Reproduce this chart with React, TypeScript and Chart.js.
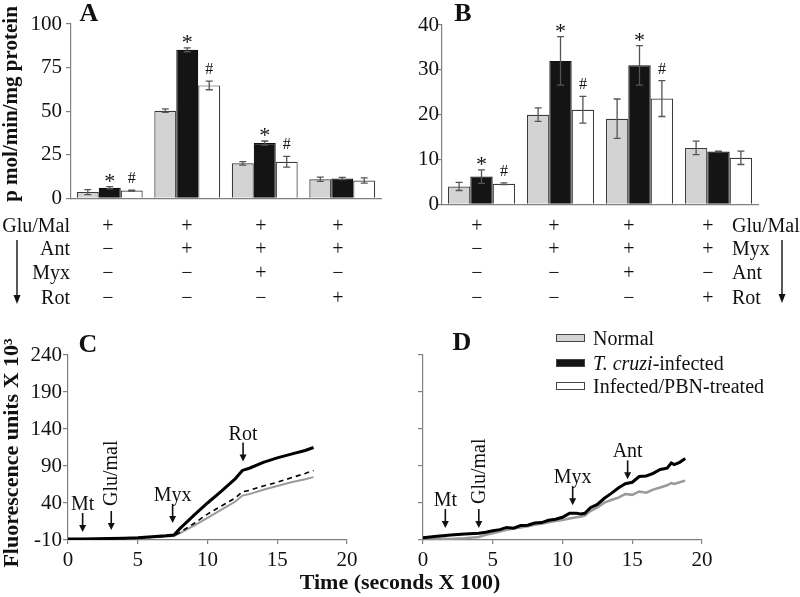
import React, { useEffect, useRef } from 'react';
import { Chart, registerables } from 'chart.js';

Chart.register(...registerables);

const SERIF = '"Liberation Serif", "Times New Roman", serif';

// ---------- Panels A & B (bar charts) ----------
const groupLabels = ['1', '2', '3', '4'];
const seriesNames = ['Normal', 'T. cruzi-infected', 'Infected/PBN-treated'];

const aNormal = [3.6, 50.3, 20.1, 11.0];
const aNormalErr = [1.4, 1.0, 1.0, 1.2];
const aInfected = [6.1, 85.2, 31.7, 11.4];
const aInfectedErr = [0.6, 1.1, 1.2, 0.6];
const aPbn = [4.5, 64.8, 21.0, 10.3];
const aPbnErr = [0.3, 2.5, 3.1, 1.5];

const bNormal = [4.0, 20.0, 19.1, 12.6];
const bNormalErr = [0.9, 1.5, 4.4, 1.5];
const bInfected = [6.2, 32.0, 31.0, 11.8];
const bInfectedErr = [1.5, 5.4, 4.4, 0.1];
const bPbn = [4.6, 21.1, 23.6, 10.4];
const bPbnErr = [0.2, 3.0, 4.0, 1.5];

const infectedSig = ['*', '*', '*', ''];
const pbnSig = ['#', '#', '#', ''];

const aMax = 100;
const aStep = 25;
const bMax = 40;
const bStep = 10;

// treatment table
const rowsA = ['Glu/Mal', 'Ant', 'Myx', 'Rot'];
const rowsB = ['Glu/Mal', 'Myx', 'Ant', 'Rot'];
const signsA = [
  ['+', '+', '+', '+'],
  ['−', '+', '+', '+'],
  ['−', '−', '+', '−'],
  ['−', '−', '−', '+'],
];
const signsB = [
  ['+', '+', '+', '+'],
  ['−', '+', '+', '+'],
  ['−', '−', '+', '−'],
  ['−', '−', '−', '+'],
];

// ---------- Panels C & D (line charts) ----------
const cTime = [0, 1, 2, 3, 4, 5, 6, 7, 7.6, 8, 9, 10, 11, 12, 12.5, 13, 14, 15, 16, 17, 17.6];
const cInfected = [-8.6, -8.6, -8.4, -8.0, -7.5, -6.8, -5.6, -4.4, -3.2, 5, 23, 40, 56, 73, 84, 87, 95, 101, 106, 111, 115];
const cPbn = [-8.6, -8.6, -8.5, -8.2, -7.8, -7.2, -6.2, -5.0, -4.0, 0, 12, 25, 36, 47, 55, 57, 63, 68, 74, 80, 84];
const cNormal = [-8.8, -8.8, -8.6, -8.4, -8.0, -7.4, -6.5, -5.4, -4.5, -1, 9, 20, 31, 42, 50, 52, 58, 63, 68, 72, 75];

const dTime = [0, 1, 2, 3, 4, 4.5, 5, 5.5, 6, 6.5, 7, 7.5, 8, 8.5, 9, 9.5, 10, 10.5, 11, 11.3, 11.6, 12, 12.5, 13, 13.5, 14, 14.5, 15, 15.5, 16, 16.5, 17, 17.5, 17.8, 18, 18.4, 18.8];
const dInfected = [-6.8, -5, -3.1, -2, -0.8, 0.5, 2.4, 4, 7, 6, 9.7, 10, 13, 13.5, 16.6, 18, 20.7, 26, 26, 25.3, 26, 33.6, 38, 46.4, 53, 60.2, 66, 68, 75.8, 76.5, 80, 85.4, 87, 94, 91.8, 95, 100];
const dNormal = [-7, -8, -8.5, -7.5, -6, -3, -0.8, 1.5, 3.8, 5.5, 7, 8.5, 10.6, 12, 13.9, 15.5, 17, 19, 20.7, 21.5, 23, 29, 34, 40.5, 44, 47.3, 52, 51, 55.6, 54, 58, 61, 64, 67, 65.7, 68, 70.3];

const fluoMin = -10;
const fluoMax = 240;
const fluoStep = 50;
const timeMin = 0;
const timeMax = 20;
const timeStep = 5;

// arrow annotations: label, time, tip value
const cNotes = [
  { label: 'Mt', x: 1.05, tip: 0.8, rotate: false },
  { label: 'Glu/mal', x: 3.1, tip: 3.5, rotate: true },
  { label: 'Myx', x: 7.5, tip: 13, rotate: false },
  { label: 'Rot', x: 12.55, tip: 96, rotate: false },
];
const dNotes = [
  { label: 'Mt', x: 1.6, tip: 6.2, rotate: false },
  { label: 'Glu/mal', x: 4.0, tip: 6.2, rotate: true },
  { label: 'Myx', x: 10.73, tip: 37, rotate: false },
  { label: 'Ant', x: 14.67, tip: 72, rotate: false },
];

// ---------- styles ----------
const barFills = ['#d3d3d3', '#141414', '#ffffff'];
const AXIS = '#808080';

const errorBarPlugin = {
  id: 'errorBars',
  afterDatasetsDraw(chart: any) {
    const ctx = chart.ctx;
    const yScale = chart.scales.y;
    chart.data.datasets.forEach((ds: any, i: number) => {
      const meta = chart.getDatasetMeta(i);
      meta.data.forEach((bar: any, j: number) => {
        const v = ds.data[j];
        const e = ds.errors[j];
        const yTop = yScale.getPixelForValue(v + e);
        const yBot = yScale.getPixelForValue(v - e);
        const x = bar.x;
        ctx.save();
        ctx.strokeStyle = '#555';
        ctx.lineWidth = 1.3;
        ctx.beginPath();
        ctx.moveTo(x, yTop);
        ctx.lineTo(x, yBot);
        ctx.moveTo(x - 3.5, yTop);
        ctx.lineTo(x + 3.5, yTop);
        ctx.moveTo(x - 3.5, yBot);
        ctx.lineTo(x + 3.5, yBot);
        ctx.stroke();
        const s = ds.sig ? ds.sig[j] : '';
        if (s) {
          ctx.fillStyle = '#111';
          ctx.textAlign = 'center';
          ctx.textBaseline = 'alphabetic';
          if (s === '*') {
            ctx.font = `22px ${SERIF}`;
            ctx.fillText(s, x, yTop + 1);
          } else {
            ctx.font = `16px ${SERIF}`;
            ctx.fillText(s, x, yTop - 7);
          }
        }
        ctx.restore();
      });
    });
  },
};

const arrowPlugin = {
  id: 'arrowNotes',
  afterDatasetsDraw(chart: any, _args: any, opts: any) {
    const ctx = chart.ctx;
    const xs = chart.scales.x;
    const ys = chart.scales.y;
    (opts.items || []).forEach((it: any) => {
      const px = xs.getPixelForValue(it.x);
      const tip = ys.getPixelForValue(it.tip);
      const top = tip - 19;
      ctx.save();
      ctx.strokeStyle = '#111';
      ctx.fillStyle = '#111';
      ctx.lineWidth = 1.6;
      ctx.beginPath();
      ctx.moveTo(px, top);
      ctx.lineTo(px, tip - 6);
      ctx.stroke();
      ctx.beginPath();
      ctx.moveTo(px - 3.5, tip - 7);
      ctx.lineTo(px + 3.5, tip - 7);
      ctx.lineTo(px, tip);
      ctx.closePath();
      ctx.fill();
      ctx.font = `20px ${SERIF}`;
      if (it.rotate) {
        ctx.translate(px + 1, top - 5);
        ctx.rotate(-Math.PI / 2);
        ctx.textAlign = 'left';
        ctx.textBaseline = 'middle';
        ctx.fillText(it.label, 0, 0);
      } else {
        ctx.textAlign = 'center';
        ctx.textBaseline = 'alphabetic';
        ctx.fillText(it.label, px, top - 3);
      }
      ctx.restore();
    });
  },
};

function barConfig(
  values: number[][],
  errors: number[][],
  max: number,
  step: number,
  yWidth: number,
  padTop: number,
  padRight: number,
  tickPad: number
): any {
  const sigs = [null, infectedSig, pbnSig];
  return {
    type: 'bar',
    data: {
      labels: groupLabels,
      datasets: values.map((vals, i) => ({
        label: seriesNames[i],
        data: vals,
        errors: errors[i],
        sig: sigs[i],
        backgroundColor: barFills[i],
        borderColor: i === 1 ? '#111' : '#3a3a3a',
        borderWidth: 1.2,
        barPercentage: 1,
        categoryPercentage: 0.85,
      })),
    },
    options: {
      responsive: false,
      animation: false,
      layout: { padding: { top: padTop, right: padRight, bottom: 7, left: 0 } },
      plugins: { legend: { display: false }, tooltip: { enabled: false } },
      scales: {
        x: {
          type: 'category',
          grid: { display: false },
          border: { display: true, color: AXIS, width: 1.2 },
          ticks: { display: false },
          afterFit: (s: any) => {
            s.height = 0;
          },
        },
        y: {
          min: 0,
          max,
          ticks: { stepSize: step, padding: tickPad, color: '#111', font: { family: SERIF, size: 21 } },
          grid: { drawOnChartArea: false, drawTicks: true, tickLength: 5, color: AXIS, lineWidth: 1.2 },
          border: { display: true, color: AXIS, width: 1.2 },
          afterFit: (s: any) => {
            s.width = yWidth;
          },
        },
      },
    },
    plugins: [errorBarPlugin],
  };
}

function lineDs(xs: number[], ys: number[], color: string, width: number, dash: number[]) {
  return {
    data: xs.map((x, i) => ({ x, y: ys[i] })),
    borderColor: color,
    borderWidth: width,
    borderDash: dash,
    pointRadius: 0,
    tension: 0,
    fill: false,
  };
}

function lineConfig(datasets: any[], notes: any[], yWidth: number, padRight: number, showY: boolean): any {
  return {
    type: 'line',
    data: { datasets },
    options: {
      responsive: false,
      animation: false,
      layout: { padding: { top: 25, right: padRight, bottom: 0, left: 0 } },
      plugins: { legend: { display: false }, tooltip: { enabled: false }, arrowNotes: { items: notes } },
      scales: {
        x: {
          type: 'linear',
          min: timeMin,
          max: timeMax,
          ticks: { stepSize: timeStep, padding: 4, maxRotation: 0, color: '#111', font: { family: SERIF, size: 21 } },
          grid: { drawOnChartArea: false, drawTicks: true, tickLength: 4, color: AXIS, lineWidth: 1.2 },
          border: { display: true, color: AXIS, width: 1.2 },
          afterFit: (s: any) => {
            s.height = 40;
          },
        },
        y: {
          type: 'linear',
          min: fluoMin,
          max: fluoMax,
          ticks: { display: showY, stepSize: fluoStep, padding: 1, color: '#111', font: { family: SERIF, size: 21 } },
          grid: { drawOnChartArea: false, drawTicks: true, tickLength: 5, color: AXIS, lineWidth: 1.2 },
          border: { display: true, color: AXIS, width: 1.2 },
          afterFit: (s: any) => {
            s.width = yWidth;
          },
        },
      },
    },
    plugins: [arrowPlugin],
  };
}

function ChartCanvas(props: { left: number; top: number; width: number; height: number; make: () => any }) {
  const ref = useRef<HTMLCanvasElement>(null);
  useEffect(() => {
    const chart = new Chart(ref.current as HTMLCanvasElement, props.make());
    return () => chart.destroy();
  }, []);
  return (
    <canvas
      ref={ref}
      width={props.width}
      height={props.height}
      style={{ position: 'absolute', left: props.left, top: props.top, width: props.width, height: props.height }}
    />
  );
}

function Txt(props: {
  x: number;
  y: number;
  children: any;
  size?: number;
  bold?: boolean;
  align?: 'left' | 'center' | 'right';
  rotate?: boolean;
}) {
  const { x, y, children, size = 20, bold = false, align = 'center', rotate = false } = props;
  let tx = '-50%';
  if (align === 'left') tx = '0';
  if (align === 'right') tx = '-100%';
  const transform = rotate ? 'translate(-50%,-50%) rotate(-90deg)' : `translate(${tx},-50%)`;
  return (
    <div
      style={{
        position: 'absolute',
        left: x,
        top: y,
        transform,
        whiteSpace: 'nowrap',
        fontSize: size,
        lineHeight: `${Math.round(size * 1.15)}px`,
        fontWeight: bold ? 'bold' : 'normal',
        color: '#111',
      }}
    >
      {children}
    </div>
  );
}

const rowY = [225, 248, 272, 297];
const colXA = [108, 187, 261, 338];
const colXB = [477, 554, 629, 708];

export default function App() {
  return (
    <div
      style={{
        position: 'absolute',
        left: 0,
        top: 0,
        width: 800,
        height: 597,
        background: '#fff',
        overflow: 'hidden',
        fontFamily: SERIF,
      }}
    >
      <ChartCanvas
        left={0}
        top={0}
        width={390}
        height={215}
        make={() =>
          barConfig([aNormal, aInfected, aPbn], [aNormalErr, aInfectedErr, aPbnErr], aMax, aStep, 71, 24, 9, 4)
        }
      />
      <ChartCanvas
        left={390}
        top={0}
        width={410}
        height={215}
        make={() =>
          barConfig([bNormal, bInfected, bPbn], [bNormalErr, bInfectedErr, bPbnErr], bMax, bStep, 52, 25, 42, -2)
        }
      />
      <ChartCanvas
        left={0}
        top={330}
        width={400}
        height={250}
        make={() =>
          lineConfig(
            [
              lineDs(cTime, cInfected, '#000', 3, []),
              lineDs(cTime, cPbn, '#000', 1.6, [5, 4]),
              lineDs(cTime, cNormal, '#9a9a9a', 2, []),
            ],
            cNotes,
            68,
            53,
            true
          )
        }
      />
      <ChartCanvas
        left={400}
        top={330}
        width={400}
        height={250}
        make={() =>
          lineConfig(
            [lineDs(dTime, dInfected, '#000', 3, []), lineDs(dTime, dNormal, '#9a9a9a', 2.5, [])],
            dNotes,
            23,
            98,
            false
          )
        }
      />

      {/* panel letters */}
      <Txt x={89} y={13} size={26} bold>A</Txt>
      <Txt x={463} y={13} size={26} bold>B</Txt>
      <Txt x={88} y={344} size={26} bold>C</Txt>
      <Txt x={462} y={342} size={26} bold>D</Txt>

      {/* axis titles */}
      <Txt x={10} y={104} size={21} bold rotate>p mol/min/mg protein</Txt>
      <Txt x={10} y={453} size={22} bold rotate>Fluorescence units X 10³</Txt>
      <Txt x={400} y={581} size={22} bold>Time (seconds X 100)</Txt>

      {/* treatment table */}
      {rowsA.map((r, i) => (
        <Txt key={'la' + i} x={70} y={rowY[i]} align="right">
          {r}
        </Txt>
      ))}
      {rowsB.map((r, i) => (
        <Txt key={'lb' + i} x={732} y={rowY[i]} align="left">
          {r}
        </Txt>
      ))}
      {signsA.map((row, i) =>
        row.map((s, j) => (
          <Txt key={`sa${i}-${j}`} x={colXA[j]} y={rowY[i]}>
            {s}
          </Txt>
        ))
      )}
      {signsB.map((row, i) =>
        row.map((s, j) => (
          <Txt key={`sb${i}-${j}`} x={colXB[j]} y={rowY[i]}>
            {s}
          </Txt>
        ))
      )}
      <svg width={800} height={597} style={{ position: 'absolute', left: 0, top: 0, pointerEvents: 'none' }}>
        <line x1={17} y1={240} x2={17} y2={296} stroke="#111" strokeWidth={1.4} />
        <polygon points="13.5,295 20.5,295 17,304" fill="#111" />
        <line x1={782} y1={240} x2={782} y2={295} stroke="#111" strokeWidth={1.4} />
        <polygon points="778.5,294 785.5,294 782,303" fill="#111" />
      </svg>

      {/* legend */}
      {seriesNames.map((name, i) => {
        const cy = [338, 363, 386][i];
        return (
          <div key={'lg' + i}>
            <div
              style={{
                position: 'absolute',
                left: 556,
                top: cy - 4,
                width: 27,
                height: 6,
                background: barFills[i],
                border: '1px solid #444',
              }}
            />
            <Txt x={593} y={cy} align="left" size={20}>
              {i === 1 ? (
                <span>
                  <i>T. cruzi</i>-infected
                </span>
              ) : (
                name
              )}
            </Txt>
          </div>
        );
      })}
    </div>
  );
}
